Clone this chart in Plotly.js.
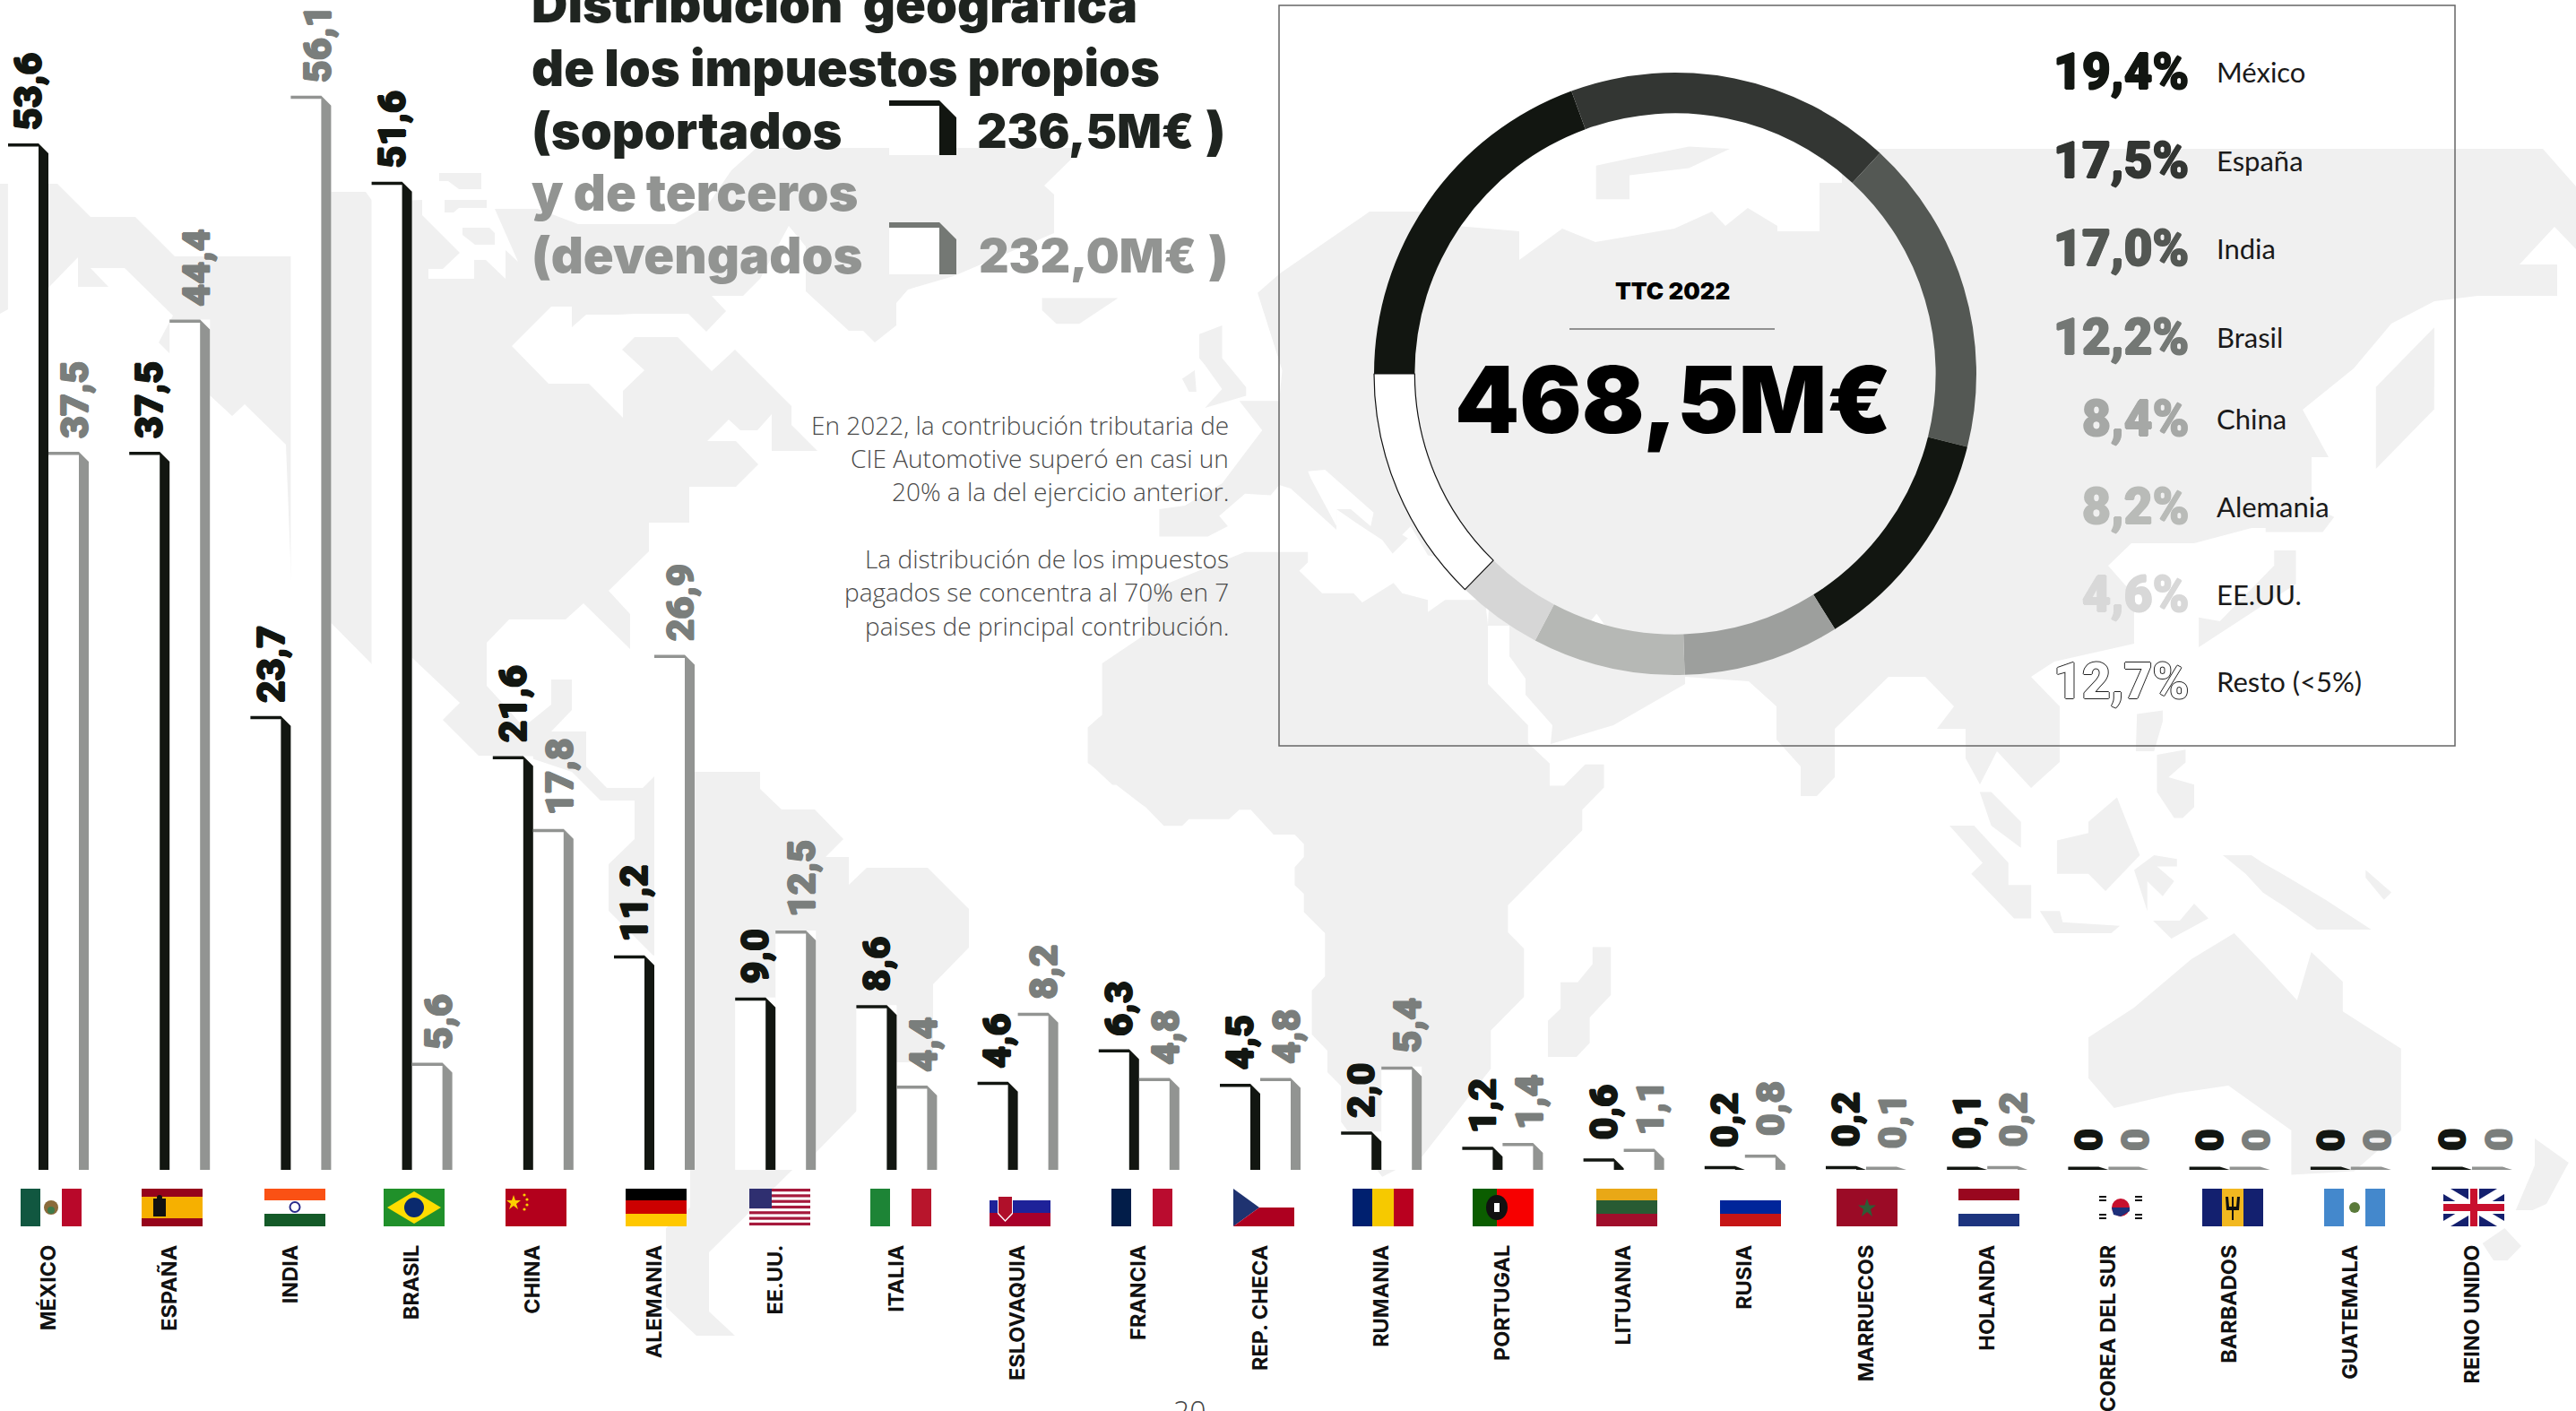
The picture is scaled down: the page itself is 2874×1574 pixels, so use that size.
<!DOCTYPE html>
<html><head><meta charset="utf-8">
<script src="https://cdn.plot.ly/plotly-3.0.1.min.js"></script>
<style>html,body{margin:0;padding:0;background:#fff;overflow:hidden}#c{width:2874px;height:1574px}</style>
</head><body><div id="c"></div>
<script>
// ---------- DATA ----------
const countries = ['MÉXICO','ESPAÑA','INDIA','BRASIL','CHINA','ALEMANIA','EE.UU.','ITALIA','ESLOVAQUIA','FRANCIA','REP. CHECA','RUMANIA','PORTUGAL','LITUANIA','RUSIA','MARRUECOS','HOLANDA','COREA DEL SUR','BARBADOS','GUATEMALA','REINO UNIDO'];
const soportados = [53.6,37.5,23.7,51.6,21.6,11.2,9.0,8.6,4.6,6.3,4.5,2.0,1.2,0.6,0.2,0.2,0.1,0,0,0,0];
const devengados = [37.5,44.4,56.1,5.6,17.8,26.9,12.5,4.4,8.2,4.8,4.8,5.4,1.4,1.1,0.8,0.1,0.2,0,0,0,0];
const ringLabels = ['México','España','India','Brasil','China','Alemania','EE.UU.','Resto (<5%)'];
const ringValues = [19.4,17.5,17.0,12.2,8.4,8.2,4.6,12.7];
const ringColors = ['#121611','#333633','#545854','#121611','#9d9f9d','#b6b8b5','#d6d6d6','#ffffff'];
const ringTextColors = ['#121611','#333633','#545854','#747875','#a6a8a6','#b9bbb8','#d8d8d8','#ffffff'];
const ringTotal = '468,5M€';

// ---------- PAGE GEOMETRY ----------
const W=2874,H=1574, BASE=1305, PXY=21.36, PXX=135.2, X0=54;
const HEAVY='Inter, "Noto Sans", sans-serif', BLK='Roboto, Inter, sans-serif', LIGHT='"Open Sans", Lato, sans-serif';
const BLACK='#121611', GRAY='#929492', GRAYTXT='#7a7e7c';
const dx=1/PXX, dy=1/PXY;
const px=x=>x/W, py=y=>1-y/H;
const thick=(c,a)=>`${a}px 0 0 ${c},-${a}px 0 0 ${c},0 ${a}px 0 ${c},0 -${a}px 0 ${c}`;

// L-shaped stroke (cap + chamfer + stem) for each value, in data units
function lShape(vals,offset){
  const xs=[],ys=[];
  vals.forEach((v,i)=>{
    const c=i+offset*dx, top=Math.max(v,3.5*dy);
    const pts=[[c-45*dx,top],[c-11*dx,top],[c,Math.max(top-11*dy,0)],[c,0],[c-11*dx,0],[c-11*dx,Math.max(top-3.5*dy,0)],[c-45*dx,top-3.5*dy]];
    pts.forEach(p=>{xs.push(p[0]);ys.push(p[1]);});
    xs.push(null);ys.push(null);
  });
  return {xs,ys};
}
const lb=lShape(soportados,0), lg=lShape(devengados,45);
const idx=countries.map((_,i)=>i);
const traces=[
 {type:'bar',x:idx,y:soportados,name:'Soportados',marker:{color:'#ffffff',line:{width:0}},hoverinfo:'skip'},
 {type:'bar',x:idx,y:devengados,name:'Devengados',marker:{color:'#ffffff',line:{width:0}},hoverinfo:'skip'},
 {type:'scatter',mode:'lines',x:lb.xs,y:lb.ys,fill:'toself',fillcolor:BLACK,line:{width:0,color:BLACK},hoverinfo:'skip',connectgaps:false},
 {type:'scatter',mode:'lines',x:lg.xs,y:lg.ys,fill:'toself',fillcolor:GRAY,line:{width:0,color:GRAY},hoverinfo:'skip',connectgaps:false},
 {type:'pie',labels:ringLabels,values:ringValues,sort:false,direction:'clockwise',rotation:270,hole:0.865,
  domain:{x:[px(1869-336),px(1869+336)],y:[py(753),py(81)]},
  marker:{colors:ringColors,line:{color:ringColors.map((c,i)=>i===7?'#111':c),width:ringColors.map((c,i)=>i===7?1.2:0)}},
  textinfo:'none',hoverinfo:'skip'}
];

// ---------- TEXT ----------
const anns=[];
function fmt(v){return v===0?'0':v.toFixed(1).replace('.',',');}
function valueLabels(vals,shift,color){
  vals.forEach((v,i)=>{
    anns.push({x:i,y:v,xref:'x',yref:'y',text:fmt(v),showarrow:false,textangle:-90,xanchor:'center',yanchor:'bottom',
      xshift:shift,yshift:v<1?19:13,font:{family:BLK,size:43,weight:900,color:color,shadow:thick(color,0.9)}});
  });
}
valueLabels(soportados,-23,BLACK);
valueLabels(devengados,29,GRAYTXT);
function T(text,x,y,size,color,family,weight,anchor,extra){
  anns.push(Object.assign({x:px(x),y:py(y),xref:'paper',yref:'paper',text,showarrow:false,xanchor:anchor||'left',yanchor:'middle',
    font:{family,size,weight,color}},extra||{}));
}
const TD='#1f2420', TG='#929492';
T('Distribución  geográfica',591,5,56,TD,HEAVY,900);
T('de los impuestos propios',591,76,56,TD,HEAVY,900);
T('(soportados',591,146,56,TD,HEAVY,900);
T('y de terceros',591,215,56,TG,HEAVY,900);
T('(devengados',591,285,56,TG,HEAVY,900);
T('236,5M€',1334,146,52,TD,HEAVY,900,'right');
T(')',1370,146,58,TD,HEAVY,900,'right');
T('232,0M€',1337,285,52,TG,HEAVY,900,'right');
T(')',1373,285,58,TG,HEAVY,900,'right');
['En 2022, la contribución tributaria de','CIE Automotive superó en casi un','20% a la del ejercicio anterior.'].forEach((s,i)=>T(s,1373,474+i*37,28,'#4a4a4a',LIGHT,300,'right'));
['La distribución de los impuestos','pagados se concentra al 70% en 7','paises de principal contribución.'].forEach((s,i)=>T(s,1373,623+i*37.5,28,'#4a4a4a',LIGHT,300,'right'));
T('20',1327,1572,32,'#444',LIGHT,300,'center');
T('TTC 2022',1866,325,26,'#000',HEAVY,900,'center');
T(ringTotal,1867,446,103,'#000',HEAVY,900,'center');
const ly=[80,179,277,376,467,565,663,760];
ringLabels.forEach((l,i)=>{
  const c=ringTextColors[i];
  T(ringValues[i].toFixed(1).replace('.',',')+'%',2444,ly[i],55,c,BLK,900,'right',
    {font:{family:BLK,size:55,weight:900,color:c,shadow:i===7?thick('#222',1):thick(c,0.9)}});
  T(l.replace('<','&lt;'),2471,ly[i],31,'#1a1a1a','Lato, sans-serif',400,'left');
});

// ---------- SHAPES ----------
function pathPx(pts){return 'M'+pts.map(p=>px(p[0]).toFixed(5)+','+py(p[1]).toFixed(5)).join('L')+'Z';}
function key(top,bot,c){
  return [
   {type:'path',xref:'paper',yref:'paper',path:pathPx([[992,top],[1048,top],[1048,bot],[992,bot]]),fillcolor:'#fff',line:{width:0}},
   {type:'path',xref:'paper',yref:'paper',path:pathPx([[992,top],[1048,top],[1067,top+19],[1067,bot],[1048,bot],[1048,top+6],[992,top+6]]),fillcolor:c,line:{width:0}}
  ];
}
const shapes=[
 {type:'rect',xref:'paper',yref:'paper',x0:px(1427),x1:px(2739),y0:py(832),y1:py(6),line:{color:'#666',width:1.5},fillcolor:'rgba(0,0,0,0)'},
 {type:'line',xref:'paper',yref:'paper',x0:px(1751),x1:px(1980),y0:py(367),y1:py(367),line:{color:'#333',width:1.2}},
 ...key(112,173,BLACK),...key(248,306,'#747874')
];

// ---------- WORLD MAP BACKDROP ----------
const z4=(a)=>a.map(p=>[1420+p[0]/1.206,p[1]/1.867]);
const z8=(a)=>a.map(p=>[1000+p[0]/1.568,300+p[1]/2.613]);
const z9=(a)=>a.map(p=>[1000+p[0]/1.568,800+p[1]/2.613]);
const z10=(a)=>a.map(p=>[1874+p[0]/1.568,100+p[1]/1.206]);
const northAmerica=[[0,205],[64,205],[101,242],[151,242],[195,286],[325,286],[325,214],[408,214],[416,225],[471,223],[471,240],[513,282],[494,300],[478,300],[478,311],[529,311],[529,290],[542,290],[564,311],[564,279],[578,292],[552,233],[600,233],[645,250],[708,250],[753,250],[790,228],[816,190],[844,165],[1208,165],[1165,207],[1176,217],[1176,260],[1064,308],[1013,323],[1000,338],[1000,363],[976,382],[963,369],[947,369],[899,325],[899,275],[880,252],[848,311],[829,330],[794,330],[810,347],[788,370],[768,350],[708,350],[690,351],[654,351],[638,365],[638,342],[615,342],[571,386],[612,428],[657,428],[695,466],[695,436],[719,413],[694,390],[708,376],[756,376],[794,414],[820,390],[883,453],[883,474],[912,503],[861,503],[861,462],[845,480],[826,480],[813,468],[789,492],[821,492],[846,518],[821,543],[769,543],[769,583],[724,583],[724,615],[679,659],[703,685],[703,724],[651,673],[631,691],[568,691],[543,717],[543,765],[564,788],[584,811],[615,786],[615,758],[638,758],[638,792],[615,816],[654,816],[654,855],[677,879],[717,879],[730,866],[775,861],[848,861],[848,880],[872,903],[909,903],[941,936],[921,956],[947,956],[947,987],[967,968],[1035,968],[1081,1014],[1081,1057],[1041,1098],[1041,1185],[1000,1185],[955,1240],[911,1285],[883,1306],[791,1397],[791,1463],[820,1490],[777,1490],[743,1458],[743,1370],[770,1347],[770,1240],[730,1067],[679,1016],[679,964],[708,936],[708,893],[670,893],[638,861],[584,843],[534,843],[494,803],[513,784],[459,733],[416,742],[325,650],[319,496],[273,451],[259,464],[234,441],[190,395],[177,382],[193,352],[139,299],[101,299],[121,320],[87,320],[87,287],[54,321],[9,345],[0,350]];
const eurasia=[...z8([[460,780],[460,700],[505,690],[570,625],[640,470],[600,385],[670,385],[675,295],[632,70]]),[1428,305],[1470,276],[1528,236],[1611,236],[1625,252],[1695,258],[1695,290],[1743,255],[1780,270],[1868,255],[1910,236],[1925,252],[1950,232],[1983,252],[1983,258],[2030,258],[2030,204],[2055,204],[2055,190],[2091,166],[2837,166],[2874,208],[2874,278],[2850,253],[2811,295],[2853,295],[2853,330],[2764,330],[2716,336],[2668,361],[2626,411],[2569,457],[2598,510],[2579,510],[2579,589],[2512,589],[2448,606],[2378,606],[2352,631],[2381,664],[2381,718],[2292,738],[2266,755],[2298,788],[2298,850],[2266,879],[2228,838],[2209,875],[2193,846],[2193,813],[2161,813],[2180,788],[2148,755],[2107,755],[2047,813],[2047,867],[2027,888],[2009,888],[2009,855],[1982,825],[1982,788],[1951,760],[1880,755],[1880,763],[1800,809],[1730,830],[1732,809],[1702,775],[1702,757],[1684,732],[1684,698],[1660,698],...z8([[1040,860],[930,835],[900,750],[885,775],[895,785],[868,830],[850,790],[800,735],[770,700],[770,760],[690,640],[670,630],[655,660],[610,655],[565,720],[580,750],[545,780]])];
const africa=[...z8([[610,825],[720,825],[720,855],[705,880],[745,945],[800,945],[815,972],[870,915],[885,945],[930,965],[930,1000],[960,965],[1030,965],[1035,1040],[1035,1210],[1105,1330]]),...z9([[1105,75],[1143,135],[1143,200],[1168,200],[1205,138],[1238,138],[1238,205],[1200,270],[1200,330],[1070,548],[1070,627],[1098,675],[1098,815],[1040,913],[1040,1025],[920,1280],[850,1340],[778,1180],[778,1075],[754,1035],[754,972],[727,925],[727,797],[750,755],[750,630],[713,568],[713,515],[697,490],[697,437],[713,408],[713,370],[697,342],[660,342],[620,270],[600,270],[582,297],[512,297],[500,317],[468,317],[398,197],[378,197],[335,130],[335,30],[355,0]]),...z8([[435,1568],[335,1440],[335,1340],[360,1300],[360,1150],[440,1060],[440,940]])];
const landPieces=[northAmerica,eurasia,africa,
 [[490,193],[537,193],[537,211],[512,211],[500,202],[490,202]],[[496,223],[543,223],[543,232],[512,232],[506,237],[496,237]],[[516,254],[546,254],[552,260],[552,273],[530,273],[516,262]],
 z8([[255,85],[388,85],[320,160],[280,160],[255,120]]),
 z8([[530,190],[570,165],[570,260],[612,345],[612,370],[540,405],[570,350],[540,280],[530,260]]),
 z8([[500,320],[522,295],[525,358],[512,358]]),
 z4([[435,345],[480,330],[560,305],[615,310],[560,350],[480,365],[480,415],[435,415]]),
 z9([[1218,670],[1250,670],[1250,810],[1213,875],[1213,950],[1190,990],[1140,990],[1140,885],[1162,850],[1162,773],[1192,773],[1218,720]]),
 z10([[1218,400],[1320,320],[1320,430],[1218,510]]),
 z10([[1040,620],[1078,620],[1078,665],[908,750],[908,710],[945,715],[1040,640]]),
 z10([[1025,595],[1125,595],[1145,575],[1105,560],[1025,575]]),
 z10([[525,945],[545,945],[597,985],[597,1020],[545,990]]),
 z10([[472,990],[515,990],[575,1040],[575,1070],[615,1070],[615,1115],[585,1115],[510,1055],[530,1040]]),
 z10([[630,1105],[665,1105],[670,1120],[770,1125],[755,1135],[655,1135]]),
 z10([[660,1010],[715,1000],[715,985],[765,952],[805,1030],[745,1078],[715,1055],[660,1055]]),
 z10([[795,1050],[830,1030],[870,1035],[870,1045],[835,1045],[865,1065],[845,1085],[818,1065],[818,1105]]),
 z10([[828,1118],[875,1118],[900,1095],[925,1115],[860,1142]]),
 z10([[800,840],[845,835],[845,850],[830,890],[798,890]]),
 z10([[835,895],[885,888],[885,905],[855,925],[900,935],[900,965],[880,980],[865,980],[835,945]]),
 z10([[950,1030],[1000,1030],[1020,1040],[1065,1060],[1130,1090],[1210,1130],[1115,1130],[1060,1100],[1020,1080],[990,1055]]),
 z10([[1200,1050],[1245,1080],[1232,1090],[1200,1060]]),
 z10([[715,1275],[795,1235],[895,1170],[970,1135],[1020,1175],[1080,1225],[1105,1160],[1160,1200],[1160,1240],[1262,1290],[1262,1400],[1180,1455],[1070,1460],[1070,1400],[960,1340],[870,1350],[760,1370],[715,1330]]),
 [[2828,1270],[1900+1555/1.61,1297],[1900+1515/1.61,1343],[1900+1490/1.61,1350],[1900+1460/1.61,1350],[2828,1300]],
 [[1900+1400/1.61,1387],[1900+1440/1.61,1370],[1900+1470/1.61,1390],[1900+1445/1.61,1406],[1900+1420/1.61,1406]]
];
const waterCuts=[
 z8([[720,590],[750,585],[835,710],[830,750],[795,700],[770,700],[770,750],[725,610]]),
 z8([[1225,1005],[1208,1040],[1240,1040]])
];
const poly=(pts,fill)=>'<polygon fill="'+fill+'" points="'+pts.map(p=>p[0].toFixed(1)+','+p[1].toFixed(1)).join(' ')+'"/>';
const mapSvg='<svg xmlns="http://www.w3.org/2000/svg" width="2874" height="1574" viewBox="0 0 2874 1574">'+landPieces.map(p=>poly(p,'#f0f0f0')).join('')+waterCuts.map(p=>poly(p,'#ffffff')).join('')+'</svg>';
const uri=s=>'data:image/svg+xml;charset=utf-8,'+encodeURIComponent(s);

// ---------- FLAGS ----------
const R=(x,y,w,h,c)=>`<rect x="${x}" y="${y}" width="${w}" height="${h}" fill="${c}"/>`;
const P=(pts,c)=>`<polygon points="${pts}" fill="${c}"/>`;
const Cc=(x,y,r,c)=>`<circle cx="${x}" cy="${y}" r="${r}" fill="${c}"/>`;
const vert=(a,b,c,s1=22,s2=46)=>R(0,0,s1,42,a)+R(s1,0,s2-s1,42,b)+R(s2,0,68-s2,42,c);
const horiz=(a,b,c,y0=0,s1=13,s2=28)=>R(0,y0,68,s1-y0,a)+R(0,s1,68,s2-s1,b)+R(0,s2,68,42-s2,c);
let usa=R(0,0,68,42,'#fff');for(let k=0;k<7;k++)usa+=R(0,k*6.3,68,3.2,'#a6193c');usa+=R(0,0,25,22,'#2f2f70');
const flagArt=[
 vert('#115740','#fff','#b9082a')+Cc(34,21,8,'#8a6a3a')+Cc(34,24,4,'#3d7a4a'),
 R(0,0,68,42,'#96041b')+R(0,9,68,24,'#f6b000')+R(13,11,14,20,'#111')+Cc(20,10,3,'#111'),
 horiz('#fa5114','#fff','#145a28',0,13,28)+`<circle cx="34" cy="20.5" r="5.5" fill="#fff" stroke="#2a2a8a" stroke-width="2"/>`,
 R(0,0,68,42,'#20902a')+P('34,3 64,21 34,39 4,21','#fedd00')+Cc(34,21,11,'#0a2a6e'),
 R(0,0,68,42,'#b3001c')+P('9,7 11,13 17,13 12,17 14,23 9,19 4,23 6,17 1,13 7,13','#fbd000')+Cc(21,7,1.6,'#fbd000')+Cc(24,12,1.6,'#fbd000')+Cc(24,18,1.6,'#fbd000')+Cc(21,23,1.6,'#fbd000'),
 horiz('#000','#cc0000','#ffc800',0,13,28),
 usa,
 vert('#1d8436','#fff','#b8152c'),
 R(0,13,68,14,'#1e2299')+R(0,27,68,15,'#a8002a')+P('9,8 26,8 26,28 17.5,37 9,28','#fff')+P('10,9 25,9 25,27 17.5,35 10,27','#b0102a'),
 vert('#021d49','#fff','#ba0c2f'),
 P('0,0 29,21 0,42','#1f3370')+P('29,21 68,21 68,42 0,42','#ae0020'),
 vert('#00206f','#f6c900','#b9001f',22,46),
 R(0,0,27,42,'#0b5d00')+R(27,0,41,42,'#f70000')+`<ellipse cx="27" cy="21" rx="12" ry="14" fill="#111"/>`+R(24,16,6,10,'#fff'),
 horiz('#e9a816','#285b33','#a00e2b',0,13,28),
 R(0,13,68,15,'#00259a')+R(0,28,68,14,'#c61515'),
 R(0,0,68,42,'#9b0b26')+P('34,11 36.5,18.5 44,18.5 38,23 40,31 34,26 28,31 30,23 24,18.5 31.5,18.5','#2e5c36'),
 horiz('#99071f','#fff','#1d347f',0,13,28),
 R(0,0,68,42,'#fff')+Cc(34,21,10,'#c8102e')+P('24,21 34,21 44,21 44,25 34,31 26,29','#1d2f7a')+R(10,8,8,2,'#111')+R(50,8,8,2,'#111')+R(10,32,8,2,'#111')+R(50,32,8,2,'#111')+R(10,12,8,2,'#111')+R(50,12,8,2,'#111')+R(10,28,8,2,'#111')+R(50,28,8,2,'#111'),
 vert('#13206f','#f2b820','#13206f',22,46)+R(33,9,2,26,'#111')+P('26,9 29,9 30,20 38,20 39,9 42,9 41,24 27,24','#111'),
 vert('#4488cc','#fff','#4488cc',22,46)+Cc(34,21,6,'#5a7a3a'),
 R(0,0,68,42,'#14206e')+P('0,0 8,0 68,36 68,42 60,42 0,6','#fff')+P('68,0 60,0 0,36 0,42 8,42 68,6','#fff')+R(28,0,12,42,'#fff')+R(0,14,68,14,'#fff')+R(30,0,8,42,'#c8102e')+R(0,17,68,8,'#c8102e')
];
const flagLeft=[23,158,295,428,564,698,836,971,1104,1240,1376,1509,1643,1781,1919,2049,2185,2332,2457,2593,2726];
const images=[{source:uri(mapSvg),xref:'paper',yref:'paper',x:0,y:1,sizex:1,sizey:1,xanchor:'left',yanchor:'top',sizing:'stretch',layer:'below'}];
flagArt.forEach((a,i)=>images.push({
  source:uri('<svg xmlns="http://www.w3.org/2000/svg" width="68" height="42" viewBox="0 0 68 42" preserveAspectRatio="none">'+a+'</svg>'),
  xref:'paper',yref:'paper',x:px(flagLeft[i]),y:py(1326),sizex:68/W,sizey:42/H,xanchor:'left',yanchor:'top',sizing:'stretch',layer:'above'}));

// ---------- LAYOUT ----------
const layout={
 width:W,height:H,margin:{l:0,r:0,t:0,b:0,pad:0},paper_bgcolor:'#ffffff',plot_bgcolor:'rgba(0,0,0,0)',showlegend:false,hovermode:false,
 barmode:'group',bargap:1/3,bargroupgap:0,
 xaxis:{domain:[0,1],range:[-X0/PXX,(W-X0)/PXX],type:'linear',tickmode:'array',tickvals:idx,ticktext:countries,tickangle:-90,
   ticks:'',ticklabelstandoff:78,showgrid:false,zeroline:false,showline:false,fixedrange:true,
   tickfont:{family:'Inter, sans-serif',size:23.5,weight:700,color:'#111'}},
 yaxis:{domain:[1-BASE/H,1],range:[0,BASE/PXY],showgrid:false,zeroline:false,showline:false,showticklabels:false,ticks:'',fixedrange:true},
 annotations:anns,shapes,images
};
Plotly.newPlot('c',traces,layout,{displayModeBar:false,staticPlot:true});
</script></body></html>
